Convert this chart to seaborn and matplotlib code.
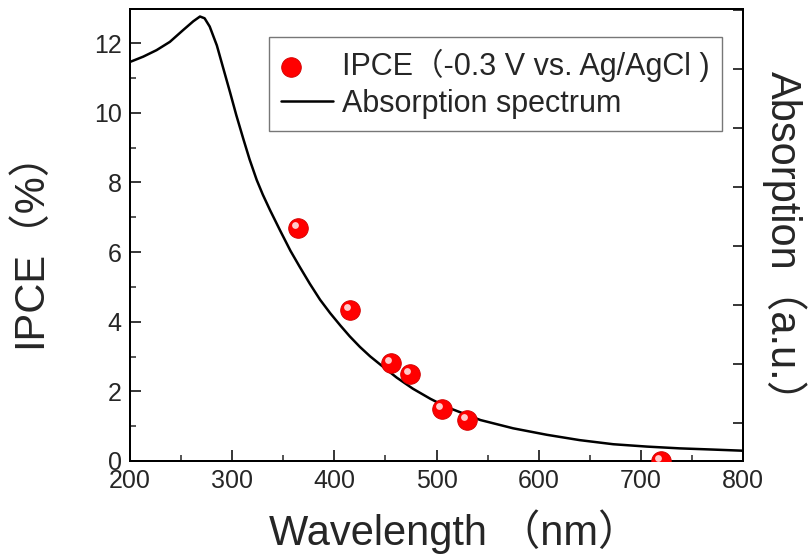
import numpy as np
import pandas as pd
import seaborn as sns
import matplotlib.pyplot as plt
from matplotlib.transforms import offset_copy
from matplotlib.ticker import MultipleLocator, NullFormatter
from matplotlib.legend_handler import HandlerTuple

# IPCE measured points (%)
ipce_wl = [364, 415, 455, 474, 505, 530, 720]
ipce_val = [6.7, 4.33, 2.8, 2.5, 1.5, 1.18, 0.0]

# absorption spectrum (a.u.)
abs_wl = [200, 213, 226, 239, 252, 262, 268.5, 273, 278, 285, 291, 298, 304,
          311, 317, 324, 330, 337, 347, 357, 366, 376, 386, 396, 406, 415,
          425, 435, 445, 461, 477, 494, 510, 543, 575, 608, 640, 673, 706,
          738, 770, 800]
abs_val = [0.712, 0.721, 0.732, 0.746, 0.766, 0.781, 0.789, 0.786, 0.772,
           0.740, 0.703, 0.660, 0.622, 0.581, 0.547, 0.512, 0.487, 0.461,
           0.426, 0.392, 0.365, 0.336, 0.309, 0.286, 0.265, 0.247, 0.229,
           0.213, 0.199, 0.177, 0.158, 0.141, 0.127, 0.105, 0.091, 0.080,
           0.071, 0.064, 0.060, 0.057, 0.055, 0.053]

ipce = pd.DataFrame({"wl": ipce_wl, "ipce": ipce_val})
absorb = pd.DataFrame({"wl": abs_wl, "abs": abs_val})

sns.set_style("ticks")
plt.rcParams['font.family'] = ['Liberation Sans', 'Noto Sans CJK SC', 'DejaVu Sans']

fig = plt.figure(figsize=(8.11, 5.60), dpi=100)
ax = fig.add_axes([0.1603, 0.1768, 0.7559, 0.8071])
ax2 = ax.twinx()

# absorption on the right axis
sns.lineplot(data=absorb, x="wl", y="abs", ax=ax2, color="black", lw=1.8,
             label="Absorption spectrum", legend=False)
ax2.set_ylim(0.0356, 0.8017)
ax2.yaxis.set_major_locator(MultipleLocator(0.1))
ax2.yaxis.set_major_formatter(NullFormatter())
ax2.set_ylabel("Absorption（a.u.）", fontsize=30, rotation=270)
ax2.yaxis.set_label_coords(1.104, 0.474)
ax2.tick_params(axis="y", direction="in", length=7, width=1.3)

# IPCE points on the left axis, drawn above the line
ax.set_zorder(ax2.get_zorder() + 1)
ax.patch.set_visible(False)
sns.scatterplot(data=ipce, x="wl", y="ipce", ax=ax, color="#ff0000", s=200,
                edgecolor="#d00000", linewidth=0.6, zorder=3, legend=False)
ball = ax.collections[-1]
hl = ax.scatter(ipce["wl"], ipce["ipce"], s=24, color="white", alpha=0.8,
                linewidth=0, zorder=4,
                transform=offset_copy(ax.transData, fig=fig, x=-3, y=3, units="dots"))

ax.set_xlim(200, 800)
ax.set_ylim(0, 12.98)
ax.xaxis.set_major_locator(MultipleLocator(100))
ax.xaxis.set_minor_locator(MultipleLocator(50))
ax.yaxis.set_major_locator(MultipleLocator(2))
ax.yaxis.set_minor_locator(MultipleLocator(1))
ax.tick_params(which="major", direction="in", length=8, width=1.3,
               labelsize=18, pad=6)
ax.tick_params(which="minor", direction="in", length=4, width=1.1)
ax.tick_params(axis="x", top=False)
ax.set_xlabel("Wavelength （nm）", fontsize=30)
ax.xaxis.set_label_coords(0.529, -0.106)
ax.set_ylabel("IPCE（%）", fontsize=30)
ax.yaxis.set_label_coords(-0.131, 0.49)

for a in (ax, ax2):
    for sp in a.spines.values():
        sp.set_linewidth(1.4)
        sp.set_color("black")

line = ax2.get_lines()[0]
leg = ax.legend([(ball, hl), line],
                ["IPCE（-0.3 V vs. Ag/AgCl )", "Absorption spectrum"],
                handler_map={tuple: HandlerTuple(ndivide=None)},
                loc="upper right", bbox_to_anchor=(0.966, 0.938),
                fontsize=22, frameon=True, fancybox=False, edgecolor="#555555",
                handlelength=1.7, handletextpad=0.3, borderpad=0.4,
                labelspacing=0.2, borderaxespad=0)
leg.get_frame().set_linewidth(1.0)

fig.savefig("out.png", dpi=100)
